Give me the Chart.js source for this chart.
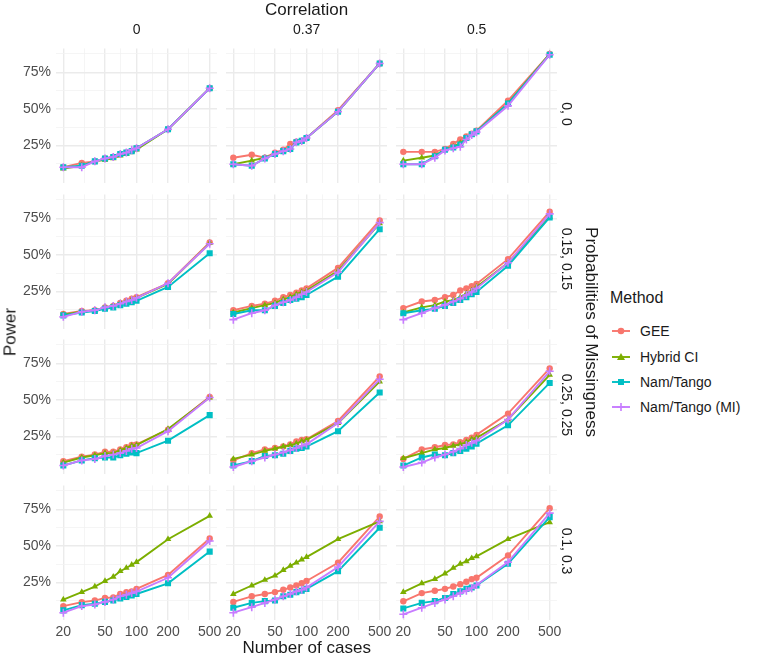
<!DOCTYPE html>
<html><head><meta charset="utf-8">
<script src="https://cdn.jsdelivr.net/npm/chart.js@4"></script>
<style>
body{margin:0;background:#fff;width:768px;height:658px;overflow:hidden;position:relative;font-family:"Liberation Sans",Arial,sans-serif}
canvas{position:absolute}
.t{position:absolute;white-space:nowrap;color:#1a1a1a;line-height:1}
.c{transform:translate(-50%,-50%)}
.r90{transform:translate(-50%,-50%) rotate(90deg)}
.rm90{transform:translate(-50%,-50%) rotate(-90deg)}
</style></head><body>
<script>
// ---- data ----
const cases = [20,30,40,50,60,70,80,90,100,200,500];
const correlations = ["0","0.37","0.5"];
const missingness = ["0, 0","0.15, 0.15","0.25, 0.25","0.1, 0.3"];
const methods = ["GEE","Hybrid CI","Nam/Tango","Nam/Tango (MI)"];
const xMajorTicks = [20,50,100,200,500];
const yMajorTicks = [0.25,0.5,0.75];
// panels ordered row by row (missingness), then column (correlation)
const GEE = [
 [0.10,0.13,0.14,0.16,0.17,0.19,0.20,0.21,0.23,0.36,0.64],
 [0.165,0.185,0.165,0.20,0.22,0.26,0.275,0.28,0.30,0.49,0.81],
 [0.205,0.205,0.205,0.225,0.26,0.29,0.31,0.33,0.35,0.555,0.875],
 [0.095,0.115,0.12,0.14,0.15,0.17,0.185,0.20,0.21,0.305,0.585],
 [0.12,0.15,0.165,0.185,0.21,0.225,0.24,0.255,0.27,0.41,0.735],
 [0.135,0.18,0.19,0.21,0.225,0.255,0.27,0.285,0.30,0.47,0.795],
 [0.08,0.11,0.125,0.145,0.145,0.16,0.175,0.19,0.195,0.295,0.52],
 [0.085,0.135,0.16,0.17,0.18,0.195,0.215,0.225,0.23,0.355,0.66],
 [0.095,0.16,0.175,0.19,0.195,0.21,0.225,0.24,0.26,0.405,0.715],
 [0.087,0.114,0.125,0.143,0.147,0.17,0.183,0.187,0.205,0.30,0.55],
 [0.116,0.154,0.17,0.183,0.199,0.214,0.228,0.243,0.259,0.384,0.70],
 [0.12,0.176,0.192,0.205,0.221,0.237,0.254,0.272,0.281,0.433,0.757]
];
const HybridCI = [
 [0.09,0.11,0.14,0.15,0.16,0.18,0.19,0.21,0.22,0.36,0.64],
 [0.12,0.145,0.165,0.19,0.21,0.23,0.27,0.28,0.30,0.48,0.81],
 [0.145,0.165,0.18,0.22,0.24,0.265,0.30,0.32,0.345,0.535,0.875],
 [0.09,0.11,0.12,0.14,0.15,0.17,0.18,0.195,0.205,0.30,0.58],
 [0.105,0.135,0.155,0.17,0.195,0.21,0.23,0.245,0.255,0.39,0.715],
 [0.105,0.14,0.155,0.18,0.19,0.21,0.235,0.255,0.28,0.445,0.76],
 [0.07,0.105,0.12,0.135,0.135,0.155,0.17,0.185,0.19,0.30,0.515],
 [0.095,0.125,0.15,0.165,0.18,0.19,0.20,0.215,0.225,0.34,0.625],
 [0.10,0.135,0.16,0.17,0.185,0.195,0.21,0.23,0.24,0.365,0.67],
 [0.132,0.183,0.221,0.259,0.288,0.326,0.348,0.37,0.388,0.545,0.705],
 [0.17,0.228,0.266,0.295,0.333,0.362,0.384,0.406,0.422,0.545,0.667],
 [0.183,0.243,0.272,0.31,0.348,0.377,0.393,0.415,0.428,0.545,0.661]
];
const NamTango = [
 [0.10,0.11,0.14,0.16,0.17,0.19,0.20,0.21,0.23,0.36,0.64],
 [0.12,0.11,0.16,0.19,0.21,0.225,0.27,0.28,0.30,0.48,0.81],
 [0.12,0.12,0.175,0.22,0.235,0.255,0.30,0.325,0.345,0.535,0.87],
 [0.085,0.105,0.115,0.13,0.14,0.155,0.165,0.175,0.185,0.28,0.51],
 [0.095,0.12,0.12,0.15,0.17,0.19,0.20,0.21,0.225,0.35,0.675],
 [0.10,0.12,0.13,0.15,0.17,0.19,0.21,0.23,0.245,0.425,0.755],
 [0.05,0.085,0.10,0.105,0.105,0.12,0.13,0.14,0.135,0.22,0.395],
 [0.05,0.08,0.115,0.12,0.13,0.15,0.165,0.17,0.18,0.285,0.55],
 [0.05,0.105,0.125,0.12,0.135,0.15,0.165,0.18,0.20,0.325,0.615],
 [0.058,0.094,0.103,0.116,0.125,0.14,0.15,0.16,0.17,0.243,0.46],
 [0.076,0.109,0.121,0.125,0.154,0.165,0.183,0.192,0.205,0.326,0.623],
 [0.071,0.109,0.121,0.143,0.17,0.188,0.205,0.214,0.228,0.377,0.696]
];
const NamTangoMI = [
 [0.10,0.10,0.14,0.16,0.17,0.19,0.20,0.22,0.23,0.36,0.64],
 [0.12,0.11,0.16,0.19,0.21,0.225,0.27,0.28,0.30,0.48,0.81],
 [0.12,0.12,0.165,0.215,0.23,0.24,0.29,0.32,0.34,0.52,0.87],
 [0.075,0.11,0.12,0.14,0.15,0.165,0.18,0.19,0.205,0.305,0.575],
 [0.056,0.10,0.12,0.155,0.175,0.19,0.21,0.23,0.245,0.38,0.72],
 [0.056,0.10,0.135,0.157,0.18,0.20,0.225,0.245,0.27,0.445,0.78],
 [0.05,0.085,0.095,0.115,0.125,0.135,0.15,0.165,0.17,0.285,0.515],
 [0.04,0.08,0.105,0.125,0.14,0.155,0.17,0.185,0.195,0.34,0.64],
 [0.04,0.07,0.105,0.125,0.145,0.165,0.19,0.205,0.22,0.365,0.695],
 [0.042,0.087,0.098,0.116,0.132,0.154,0.165,0.176,0.187,0.281,0.533],
 [0.042,0.08,0.109,0.132,0.154,0.17,0.188,0.199,0.214,0.355,0.667],
 [0.031,0.076,0.109,0.132,0.154,0.176,0.192,0.21,0.232,0.388,0.723]
];
</script>
<script>
const seriesData = [GEE, HybridCI, NamTango, NamTangoMI];
const colors = ["#F8766D","#7CAE00","#00BFC4","#C77CFF"];
const shapes = ["circle","triangle","rect","cross"];
const radii = [3.2,3.8,4.3,4];

// layout
const P0X = 56, P0Y = 45, PW = 161.3, PH = 137.5, SX = 170, SY = 145.6;
const YW = 50, XH = 30, PAD_T = 10, PAD_R = 16;
const Y_MIN = -0.008, Y_MAX = 0.913;
const expand = Math.pow(10, 0.05 * Math.log10(500/20));
const X_MIN = 20/expand, X_MAX = 500*expand;
const xMinor = [];
for (let i=0;i<xMajorTicks.length-1;i++) xMinor.push(Math.sqrt(xMajorTicks[i]*xMajorTicks[i+1]));
const xAll = xMajorTicks.concat(xMinor).sort((a,b)=>a-b);
const yMinor = [0.125,0.375,0.625,0.875];
const yAll = yMajorTicks.concat(yMinor).sort((a,b)=>a-b);
const isMajor = (arr,v)=>arr.some(m=>Math.abs(m-v)<1e-6);

function addText(txt, x, y, size, cls, color){
  const d = document.createElement('div');
  d.className = 't ' + cls;
  d.textContent = txt;
  d.style.left = x+'px'; d.style.top = y+'px';
  d.style.fontSize = size+'px';
  if (color) d.style.color = color;
  document.body.appendChild(d);
  return d;
}

for (let r=0;r<4;r++){
  for (let c=0;c<3;c++){
    const idx = r*3+c;
    const left = P0X + c*SX, top = P0Y + r*SY;
    const cv = document.createElement('canvas');
    const W = Math.round(PW + YW + PAD_R), H = Math.round(PH + XH + PAD_T);
    cv.width = W; cv.height = H;
    cv.style.left = (left - YW)+'px';
    cv.style.top = (top - PAD_T)+'px';
    cv.style.width = W+'px'; cv.style.height = H+'px';
    document.body.appendChild(cv);
    const showY = c===0, showX = r===3;
    new Chart(cv, {
      type:'line',
      data:{
        datasets: methods.map((m,k)=>({
          label:m,
          data: cases.map((x,i)=>({x:x, y:seriesData[k][idx][i]})),
          borderColor: colors[k], backgroundColor: colors[k],
          pointBackgroundColor: colors[k], pointBorderColor: colors[k],
          pointStyle: shapes[k], pointRadius: radii[k],
          pointBorderWidth: k===3 ? 1.6 : 0,
          borderWidth: 1.9, tension:0, order: 4-k
        }))
      },
      options:{
        responsive:false, animation:false, devicePixelRatio:1,
        layout:{padding:{top:PAD_T,right:PAD_R,left:0,bottom:0}},
        plugins:{legend:{display:false}, tooltip:{enabled:false}},
        events:[],
        scales:{
          x:{type:'logarithmic', min:X_MIN, max:X_MAX,
             afterBuildTicks:(s)=>{s.ticks = xAll.map(v=>({value:v}));},
             afterFit:(s)=>{s.height = XH;},
             border:{display:false},
             grid:{drawTicks:false, color:(ctx)=>isMajor(xMajorTicks,ctx.tick.value)?'#EBEBEB':'#F2F2F2',
                   lineWidth:(ctx)=>isMajor(xMajorTicks,ctx.tick.value)?1.4:0.8},
             ticks:{autoSkip:false, maxRotation:0, minRotation:0, padding:4,
                    color: showX ? '#4D4D4D' : 'rgba(0,0,0,0)',
                    font:{family:'"Liberation Sans", Arial, sans-serif', size:14},
                    callback:(v)=>isMajor(xMajorTicks,v)?String(v):''}
          },
          y:{type:'linear', min:Y_MIN, max:Y_MAX,
             afterBuildTicks:(s)=>{s.ticks = yAll.map(v=>({value:v}));},
             afterFit:(s)=>{s.width = YW;},
             border:{display:false},
             grid:{drawTicks:false, color:(ctx)=>isMajor(yMajorTicks,ctx.tick.value)?'#EBEBEB':'#F2F2F2',
                   lineWidth:(ctx)=>isMajor(yMajorTicks,ctx.tick.value)?1.4:0.8},
             ticks:{padding:5, color: showY ? '#4D4D4D' : 'rgba(0,0,0,0)',
                    font:{family:'"Liberation Sans", Arial, sans-serif', size:14},
                    callback:(v)=>isMajor(yMajorTicks,v)?Math.round(v*100)+'%':''}
          }
        }
      }
    });
  }
}

// strips and titles
const midX = P0X + (2*SX + PW)/2;
const midY = P0Y + (3*SY + PH)/2;
addText('Correlation', midX, 9, 17, 'c');
correlations.forEach((t,c)=>addText(t, P0X + c*SX + PW/2, 29, 14, 'c'));
missingness.forEach((t,r)=>addText(t, 567, P0Y + r*SY + PH/2, 14, 'r90'));
addText('Probabilities of Missingness', 591, midY, 17, 'r90');
addText('Power', 10, midY, 17, 'rm90');
addText('Number of cases', midX, 647, 17, 'c');

// legend
addText('Method', 610, 298, 16, '').style.transform = 'translateY(-50%)';
const legY = [331, 357, 382, 407];
methods.forEach((m,k)=>{
  const y = legY[k];
  const svgNS = 'http://www.w3.org/2000/svg';
  const svg = document.createElementNS(svgNS,'svg');
  svg.setAttribute('width','22'); svg.setAttribute('height','22');
  svg.style.position='absolute'; svg.style.left='610px'; svg.style.top=(y-11)+'px';
  const ln = document.createElementNS(svgNS,'line');
  ln.setAttribute('x1','2'); ln.setAttribute('x2','20'); ln.setAttribute('y1','11'); ln.setAttribute('y2','11');
  ln.setAttribute('stroke',colors[k]); ln.setAttribute('stroke-width','1.9');
  svg.appendChild(ln);
  let sh;
  if (k===0){ sh=document.createElementNS(svgNS,'circle'); sh.setAttribute('cx','11'); sh.setAttribute('cy','11'); sh.setAttribute('r','3.3'); sh.setAttribute('fill',colors[k]); }
  else if (k===1){ sh=document.createElementNS(svgNS,'polygon'); sh.setAttribute('points','11,7 15,14 7,14'); sh.setAttribute('fill',colors[k]); }
  else if (k===2){ sh=document.createElementNS(svgNS,'rect'); sh.setAttribute('x','8'); sh.setAttribute('y','8'); sh.setAttribute('width','6'); sh.setAttribute('height','6'); sh.setAttribute('fill',colors[k]); }
  else { sh=document.createElementNS(svgNS,'path'); sh.setAttribute('d','M11 7 V15 M7 11 H15'); sh.setAttribute('stroke',colors[k]); sh.setAttribute('stroke-width','1.6'); }
  svg.appendChild(sh);
  document.body.appendChild(svg);
  addText(m, 640, y, 14, '').style.transform = 'translateY(-50%)';
});
</script>
</body></html>
